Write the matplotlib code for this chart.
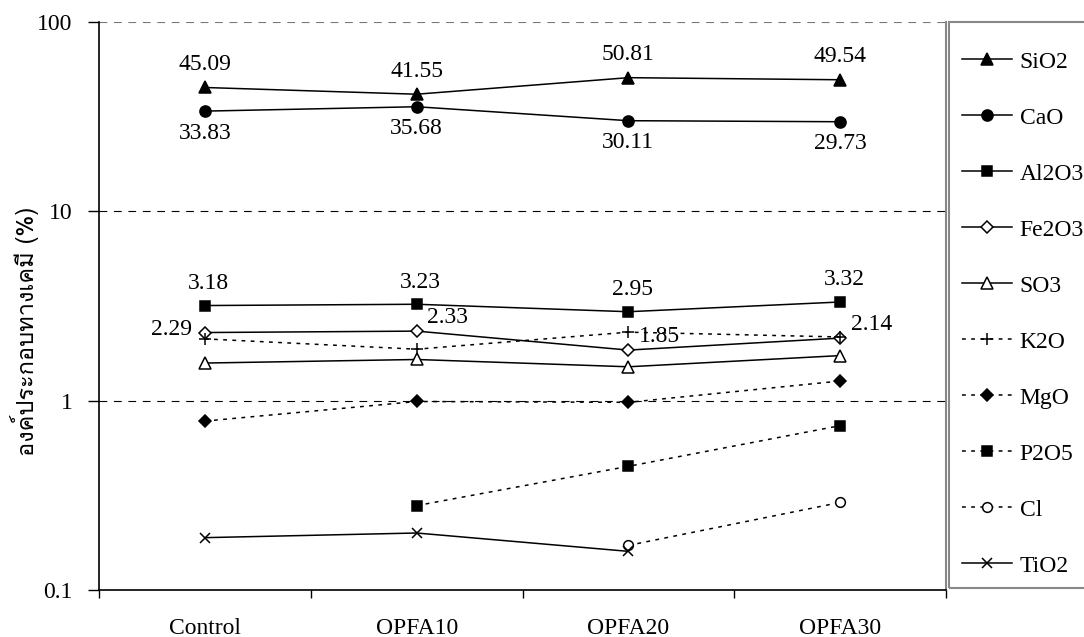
import numpy as np
import matplotlib
matplotlib.use('Agg')
import matplotlib.pyplot as plt
from matplotlib import font_manager
from matplotlib.ft2font import FT2Font
from matplotlib.patches import Rectangle

mixes = ['Control', 'OPFA10', 'OPFA20', 'OPFA30']

sio2 = [45.09, 41.55, 50.81, 49.54]
cao = [33.83, 35.68, 30.11, 29.73]
al2o3 = [3.18, 3.23, 2.95, 3.32]
fe2o3 = [2.29, 2.33, 1.85, 2.14]
so3 = [1.58, 1.65, 1.51, 1.73]
k2o = [2.12, 1.87, 2.30, 2.17]
mgo = [0.78, 0.99, 0.98, 1.27]
p2o5 = [np.nan, 0.279, 0.45, 0.738]
cl = [np.nan, np.nan, 0.172, 0.29]
tio2 = [0.189, 0.20, 0.16, np.nan]

y_ticks = [0.1, 1, 10, 100]
y_ticklabels = ['0.1', '1', '10', '100']
ylabel = 'องค์ประกอบทางเคมี (%)'


def font_with(char, fallback='DejaVu Sans'):
    # first installed family that actually has a glyph for char
    for f in font_manager.fontManager.ttflist:
        try:
            if ord(char) in FT2Font(f.fname).get_charmap():
                return f.name
        except Exception:
            continue
    return fallback


serif = 'Liberation Serif'
thai = font_with('อ')
fs = 17

plt.rcParams['font.family'] = [serif, 'DejaVu Sans']
plt.rcParams['font.size'] = fs

# name, values, marker, filled, dotted, marker size
series = [
    ('SiO2', sio2, '^', True, False, 8),
    ('CaO', cao, 'o', True, False, 8),
    ('Al2O3', al2o3, 's', True, False, 7.5),
    ('Fe2O3', fe2o3, 'D', False, False, 6),
    ('SO3', so3, '^', False, False, 8),
    ('K2O', k2o, '+', True, True, 9),
    ('MgO', mgo, 'D', True, True, 6),
    ('P2O5', p2o5, 's', True, True, 7.5),
    ('Cl', cl, 'o', False, True, 7),
    ('TiO2', tio2, 'x', True, False, 7.5),
]

fig = plt.figure(figsize=(10.84, 6.37), dpi=100)
ax = fig.add_axes([99 / 1084, 47 / 637, 847 / 1084, 568 / 637])

x = np.arange(len(mixes)) + 0.5
handles = []
for name, vals, mk, filled, dotted, ms in series:
    ls = (0, (2.5, 3.5)) if dotted else '-'
    line, = ax.plot(x, vals, color='black', lw=1.1, linestyle=ls,
                    marker=mk, markersize=ms, markeredgewidth=1.1,
                    markerfacecolor='black' if filled else 'white',
                    markeredgecolor='black', zorder=3)
    handles.append(line)

# value labels
for i, v in enumerate(sio2):
    ax.annotate(f'{v:.2f}', (x[i], v), xytext=(0, 23), textcoords='offset pixels',
                ha='center', va='center')
for i, v in enumerate(cao):
    ax.annotate(f'{v:.2f}', (x[i], v), xytext=(0, -22), textcoords='offset pixels',
                ha='center', va='center')
for i, v in enumerate(al2o3):
    ax.annotate(f'{v:.2f}', (x[i], v), xytext=(4, 22), textcoords='offset pixels',
                ha='center', va='center')
for i, v in enumerate(fe2o3):
    off = (-33, 3) if i == 0 else (31, 14)
    ax.annotate(f'{v:.2f}', (x[i], v), xytext=off, textcoords='offset pixels',
                ha='center', va='center')

ax.set_yscale('log')
ax.set_ylim(0.1, 100)
ax.set_xlim(0, len(mixes))
ax.set_yticks(y_ticks)
ax.set_yticklabels(y_ticklabels)
ax.yaxis.set_minor_locator(plt.NullLocator())
ax.tick_params(axis='y', which='major', length=8, width=1, direction='out', pad=11)

ax.set_xticks(np.arange(len(mixes) + 1))
ax.set_xticklabels([])
ax.set_xticks(x, minor=True)
ax.set_xticklabels(mixes, minor=True)
ax.tick_params(axis='x', which='major', length=6, width=1, direction='out')
ax.tick_params(axis='x', which='minor', length=0, pad=20)

for yv in [1, 10, 100]:
    ax.axhline(yv, color='black' if yv < 100 else '#777777', lw=0.8,
               linestyle=(0, (7, 6)), zorder=1)

ax.spines['top'].set_visible(False)
ax.spines['right'].set_color('#888888')
ax.spines['right'].set_linewidth(1.5)
ax.spines['left'].set_linewidth(1.2)
ax.spines['bottom'].set_linewidth(1.2)

fig.text(25 / 1084, 306 / 637, ylabel, rotation=90, ha='center', va='center',
         family=[thai, serif], fontsize=fs)

# legend box, open to the right edge of the figure
fig.patches.append(Rectangle((949 / 1084, 49 / 637), 0.2, 566 / 637,
                             transform=fig.transFigure, fill=False,
                             edgecolor='#888888', lw=1.5))
fig.legend(handles, [s[0] for s in series], loc='upper left',
           bbox_to_anchor=(962 / 1084, 1 - 51 / 637), frameon=False,
           borderpad=0, borderaxespad=0, handlelength=2.1, handletextpad=0.35,
           labelspacing=1.46)

fig.savefig('out.png', dpi=100)
